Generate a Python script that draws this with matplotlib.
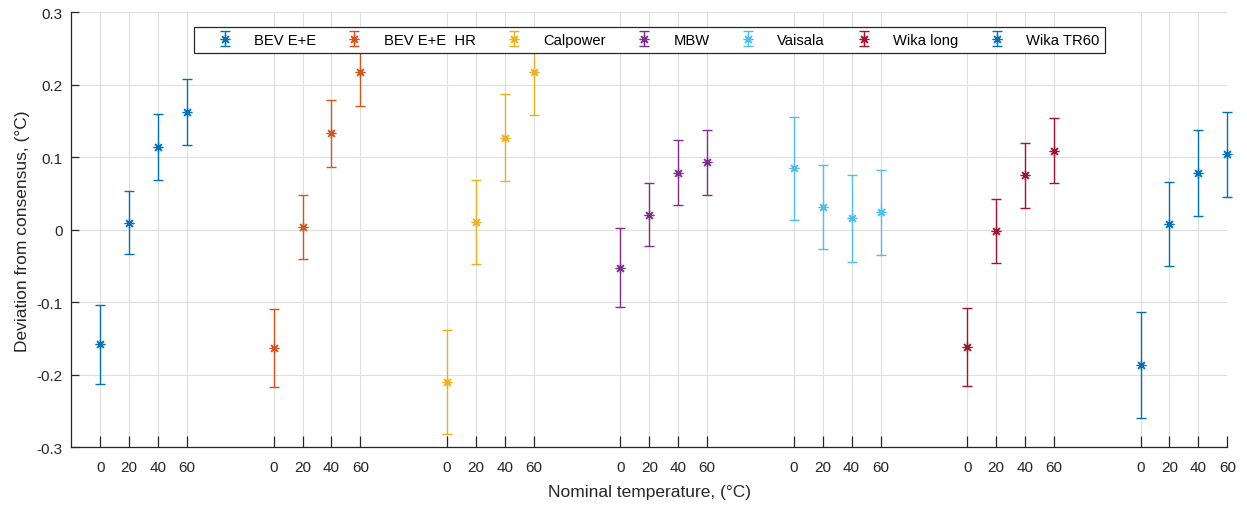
import matplotlib
matplotlib.use("Agg")
import matplotlib.pyplot as plt
import numpy as np
from matplotlib.lines import Line2D
from matplotlib.container import ErrorbarContainer
from matplotlib.collections import LineCollection

plt.rcParams['font.family'] = ['Liberation Sans', 'DejaVu Sans']
plt.rcParams['axes.unicode_minus'] = False

temps = [0, 20, 40, 60]
series = ["BEV E+E", "BEV E+E  HR", "Calpower", "MBW", "Vaisala", "Wika long", "Wika TR60"]
colors = ["#0072BD", "#D95319", "#EDB120", "#7E2F8E", "#4DBEEE", "#A2142F", "#0072BD"]

bev_ee = [-0.158, 0.010, 0.114, 0.162]
bev_ee_err = [0.054, 0.044, 0.0455, 0.0455]
bev_ee_hr = [-0.163, 0.004, 0.133, 0.217]
bev_ee_hr_err = [0.054, 0.044, 0.046, 0.046]
calpower = [-0.210, 0.011, 0.127, 0.218]
calpower_err = [0.072, 0.058, 0.060, 0.060]
mbw = [-0.052, 0.021, 0.079, 0.093]
mbw_err = [0.055, 0.044, 0.045, 0.0445]
vaisala = [0.085, 0.032, 0.016, 0.024]
vaisala_err = [0.071, 0.058, 0.060, 0.059]
wika_long = [-0.162, -0.002, 0.075, 0.109]
wika_long_err = [0.054, 0.044, 0.045, 0.045]
wika_tr60 = [-0.187, 0.008, 0.078, 0.104]
wika_tr60_err = [0.073, 0.058, 0.059, 0.0585]

values = [bev_ee, bev_ee_hr, calpower, mbw, vaisala, wika_long, wika_tr60]
errors = [bev_ee_err, bev_ee_hr_err, calpower_err, mbw_err, vaisala_err, wika_long_err, wika_tr60_err]

fig = plt.figure(figsize=(12.47, 5.06), dpi=100)
ax = fig.add_axes([0.0572, 0.114, 0.9842 - 0.0572, 0.9737 - 0.114])

txt = "#262626"
mk = (8, 2, 0)
group_step = len(temps) + 2
tick_pos = []
tick_lab = []
for i, (name, vals, errs, c) in enumerate(zip(series, values, errors, colors)):
    x = np.arange(len(temps)) + 1 + i * group_step
    eb = ax.errorbar(x, vals, yerr=errs, fmt='none', ecolor=c, elinewidth=1.0,
                     capsize=3.6, capthick=1.0, zorder=3)
    for art in eb.lines[1] + eb.lines[2]:
        art.set_clip_on(False)
    ln, = ax.plot(x, vals, linestyle='none', marker=mk, markersize=7,
                  markeredgewidth=0.9, color=c, zorder=4)
    ln.set_clip_on(False)
    tick_pos.extend(x)
    tick_lab.extend([str(t) for t in temps])

handles = []
for name, c in zip(series, colors):
    ln = Line2D([], [], linestyle='none', marker=mk, markersize=7,
                markeredgewidth=0.9, color=c)
    cap1 = Line2D([], [], linestyle='none', marker='_', markersize=7.2,
                  markeredgewidth=1.0, color=c)
    cap2 = Line2D([], [], linestyle='none', marker='_', markersize=7.2,
                  markeredgewidth=1.0, color=c)
    bar = LineCollection([], colors=c, linewidths=1.0)
    cont = ErrorbarContainer((ln, (cap1, cap2), (bar,)), has_xerr=False,
                             has_yerr=True, label=name)
    handles.append(cont)

ax.set_xlim(0, tick_pos[-1])
ax.set_ylim(-0.3, 0.3)
ax.set_xticks(tick_pos)
ax.set_xticklabels(tick_lab)
ax.set_yticks([-0.3, -0.2, -0.1, 0, 0.1, 0.2, 0.3])
ax.set_yticklabels(["-0.3", "-0.2", "-0.1", "0", "0.1", "0.2", "0.3"])

ax.grid(True, color="#dfdfdf", linewidth=0.8)
ax.set_axisbelow(True)
for s in ["top", "right"]:
    ax.spines[s].set_visible(False)
for s in ["left", "bottom"]:
    ax.spines[s].set_color(txt)
    ax.spines[s].set_linewidth(0.9)
ax.tick_params(axis='x', direction='in', length=8, width=0.9, color=txt,
               labelcolor=txt, labelsize=11, pad=9)
ax.tick_params(axis='y', direction='in', length=6, width=0.9, color=txt,
               labelcolor=txt, labelsize=11, pad=6)

ax.set_xlabel("Nominal temperature, (°C)", fontsize=12.5, color=txt, labelpad=7.5)
ax.set_ylabel("Deviation from consensus, (°C)", fontsize=12.5, color=txt, labelpad=5)

leg = ax.legend(handles=handles, labels=series, loc='upper center',
                bbox_to_anchor=(0.5, 1 - 14.5 / 435), ncol=7, fontsize=10.6,
                frameon=True, fancybox=False, edgecolor=txt, framealpha=1,
                handlelength=3.4, handletextpad=0.28, columnspacing=0.92,
                borderpad=0.4, borderaxespad=0)
leg.set_zorder(10)
leg.get_frame().set_linewidth(0.9)
for t in leg.get_texts():
    t.set_color("#000000")

fig.savefig("out.png", dpi=100)
